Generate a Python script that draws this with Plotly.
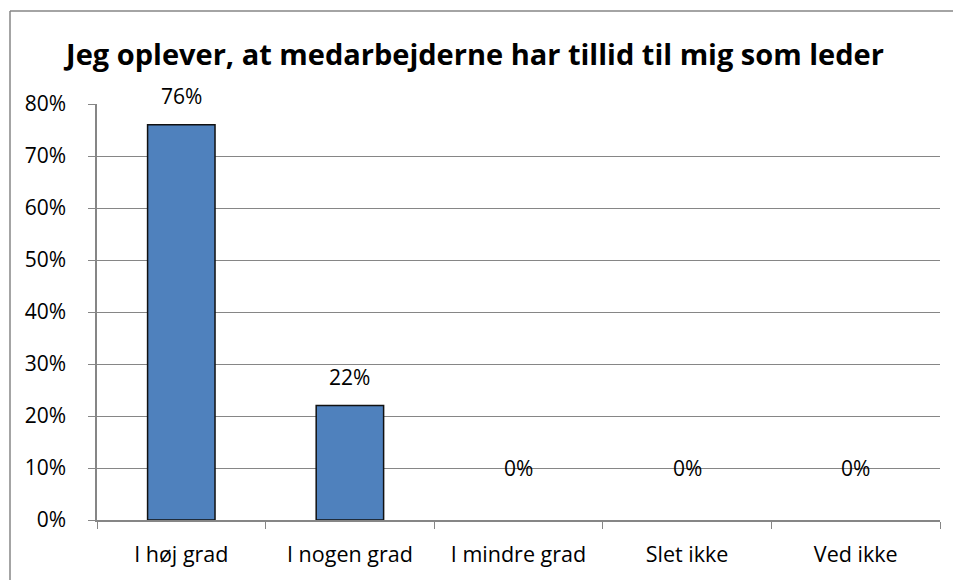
import plotly.graph_objects as go

categories = ["I høj grad", "I nogen grad", "I mindre grad", "Slet ikke", "Ved ikke"]
values = [0.76, 0.22, 0.0, 0.0, 0.0]
y_ticks = [0, 0.1, 0.2, 0.3, 0.4, 0.5, 0.6, 0.7, 0.8]
y_labels = ["0%", "10%", "20%", "30%", "40%", "50%", "60%", "70%", "80%"]
title = "Jeg oplever, at medarbejderne har tillid til mig som leder"

FONT = "Open Sans"
GRID = "#868686"

# page has an 8px body margin; size the figure so it fits the 961x580 window
OFF = 8
W, H = 961 - OFF, 580 - OFF
L, T = 97 - OFF, 104 - OFF
R = W - (940 - OFF)
B = H - (520 - OFF)
pw, ph = W - L - R, H - T - B

fig = go.Figure()
fig.add_trace(go.Bar(
    x=categories, y=values, width=0.4,
    marker=dict(color="#4F81BD",
                line=dict(color="#111111", width=[1.5 if v > 0 else 0 for v in values])),
    hoverinfo="skip",
))

for c, v in zip(categories, values):
    fig.add_annotation(
        x=c, y=v, text=f"{round(v*100)}%", showarrow=False,
        yanchor="bottom", yshift=13 if v > 0 else 36,
        font=dict(family=FONT, size=21, color="#000000"),
    )

# outer chart border (top and left edges visible in the window)
bx0, by0 = 10 - OFF, 11 - OFF
px_x = lambda x: (x - L) / pw
px_y = lambda y: (H - B - y) / ph
fig.add_shape(type="line", xref="paper", yref="paper",
              x0=px_x(bx0), x1=px_x(W + 20), y0=px_y(by0), y1=px_y(by0),
              line=dict(color=GRID, width=1.5), layer="below")
fig.add_shape(type="line", xref="paper", yref="paper",
              x0=px_x(bx0), x1=px_x(bx0), y0=px_y(by0), y1=px_y(H + 20),
              line=dict(color=GRID, width=1.5), layer="below")

fig.update_layout(
    width=W, height=H,
    margin=dict(l=L, r=R, t=T, b=B, autoexpand=False),
    paper_bgcolor="white", plot_bgcolor="white",
    showlegend=False,
    title=dict(text=f"<b>{title}</b>", x=(475 - OFF) / W, xanchor="center",
               y=1 - (55 - OFF) / H, yanchor="middle", yref="container",
               font=dict(family=FONT, size=29, color="#000000")),
    font=dict(family=FONT, size=21, color="#000000"),
    xaxis=dict(
        type="category", tickson="boundaries", ticks="outside", ticklen=7,
        tickcolor=GRID, showline=True, linecolor=GRID, linewidth=1.5,
        showgrid=False, ticklabelstandoff=14, automargin=False,
        tickfont=dict(family=FONT, size=21.5, color="#000000"),
    ),
    yaxis=dict(
        range=[0, 0.8], tickvals=y_ticks, ticktext=y_labels,
        ticks="outside", ticklen=7, tickcolor=GRID,
        showline=True, linecolor=GRID, linewidth=1.5,
        showgrid=True, gridcolor=GRID, gridwidth=1,
        zeroline=False, ticklabelstandoff=18, automargin=False,
        tickfont=dict(family=FONT, size=21, color="#000000"),
    ),
)

fig.write_html("out.html")
